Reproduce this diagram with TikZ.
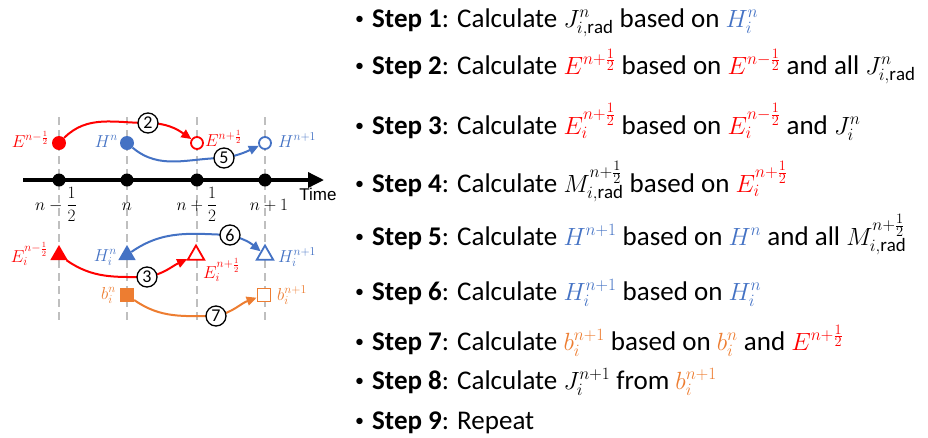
\documentclass[tikz,border=0pt]{standalone}
\usepackage{fontspec}
\setmainfont{Carlito}
\newfontfamily\timefont{Liberation Sans}
\usetikzlibrary{arrows.meta,shapes.geometric}
\definecolor{cred}{RGB}{255,0,0}
\definecolor{cblue}{RGB}{68,114,196}
\definecolor{corange}{RGB}{237,125,49}
\definecolor{cgray}{RGB}{191,191,191}
\newcommand{\rc}[1]{\textcolor{cred}{#1}}
\newcommand{\bc}[1]{\textcolor{cblue}{#1}}
\newcommand{\oc}[1]{\textcolor{corange}{#1}}
\newcommand{\bul}{\makebox[20pt][l]{\hspace{3pt}\raisebox{3pt}{\fontsize{18}{18}\selectfont•}}}
\begin{document}
\begin{tikzpicture}[x=1pt,y=-1pt,
  gridline/.style={cgray,line width=2.4pt,dash pattern=on 8pt off 5pt},
  timeaxis/.style={black,line width=3.5pt,-{Triangle[length=16pt,width=15pt]}},
  tdot/.style={circle,fill=black,minimum size=13pt,inner sep=0pt},
  fdot/.style={circle,fill=#1,minimum size=14pt,inner sep=0pt},
  odot/.style={circle,draw=#1,line width=1.8pt,fill=white,minimum size=12pt,inner sep=0pt},
  ftri/.style={regular polygon,regular polygon sides=3,fill=#1,minimum size=20pt,inner sep=0pt},
  otri/.style={regular polygon,regular polygon sides=3,draw=#1,line width=1.8pt,fill=white,minimum size=19pt,inner sep=0pt},
  fsq/.style={rectangle,fill=#1,minimum size=14pt,inner sep=0pt},
  osq/.style={rectangle,draw=#1,line width=1.8pt,fill=white,minimum size=13pt,inner sep=0pt},
  conn/.style={draw=#1,line width=2pt,-{Triangle[length=10pt,width=9pt]}},
  num/.style={circle,draw=black,line width=1.3pt,fill=white,minimum size=20pt,inner sep=0pt,font=\fontsize{18}{18}\selectfont},
  lab/.style={inner sep=0pt,font=\fontsize{17}{20}\selectfont},
  ticklab/.style={inner sep=0pt,anchor=base,font=\fontsize{19}{22}\selectfont},
  stepline/.style={anchor=base west,inner sep=0pt,font=\fontsize{27}{30}\selectfont}
]
\useasboundingbox (0,0) rectangle (928,437);

% grid lines
\foreach \x in {59,127,197,265}{\draw[gridline] (\x,117) -- (\x,322);}

% time axis
\coordinate (ax0) at (23,180);
\coordinate (ax1) at (324,180);
\draw[timeaxis] (ax0) -- (ax1);
\node[tdot] (t0) at (59,180) {};
\node[tdot] (t1) at (127,180) {};
\node[tdot] (t2) at (197,180) {};
\node[tdot] (t3) at (265,180) {};
\node[inner sep=0pt,font=\timefont\fontsize{17}{17}\selectfont] (timelab) at (318,194) {Time};
\node[ticklab] (l0) at (56,210) {$\displaystyle n-\frac{1}{2}$};
\node[ticklab] (l1) at (127,210) {$n$};
\node[ticklab] (l2) at (197,210) {$\displaystyle n+\frac{1}{2}$};
\node[ticklab] (l3) at (269,210) {$n+1$};

% upper row
\node[fdot=cred] (E0) at (59,143) {};
\node[fdot=cblue] (H0) at (127,143) {};
\node[odot=cred] (E1) at (197,143) {};
\node[odot=cblue] (H1) at (265,143) {};
\node[lab,anchor=base east,text=cred] (E0l) at (49,147) {$E^{n-\frac{1}{2}}$};
\node[lab,anchor=base east,text=cblue] (H0l) at (118,147) {$H^{n}$};
\node[lab,anchor=base west,text=cred] (E1l) at (205,146) {$E^{n+\frac{1}{2}}$};
\node[lab,anchor=base west,text=cblue] (H1l) at (278,147) {$H^{n+1}$};

\coordinate (c2) at (148,123);
\coordinate (c5) at (224,158);
\draw[conn=cred] (E0) to[out=45,in=180] (c2) to[out=0,in=145] (E1);
\draw[conn=cblue] (H0) to[out=-40,in=180] (c5) to[out=10,in=205] (H1);
\node[num] (n2) at (c2) {2};
\node[num] (n5) at (c5) {5};

% lower row
\node[ftri=cred] (Et0) at (59,255) {};
\node[ftri=cblue] (Ht0) at (127,255) {};
\node[otri=cred] (Et1) at (196,255) {};
\node[otri=cblue] (Ht1) at (265,255) {};
\node[fsq=corange] (b0) at (127,295) {};
\node[osq=corange] (b1) at (264,295) {};
\node[lab,anchor=base east,text=cred] (Et0l) at (48,262) {$E_i^{n-\frac{1}{2}}$};
\node[lab,anchor=base east,text=cblue] (Ht0l) at (117,261) {$H_i^{n}$};
\node[lab,anchor=base east,text=corange] (b0l) at (116,299) {$b_i^{n}$};
\node[lab,anchor=base west,text=cred] (Et1l) at (203,278) {$E_i^{n+\frac{1}{2}}$};
\node[lab,anchor=base west,text=cblue] (Ht1l) at (278,262) {$H_i^{n+1}$};
\node[lab,anchor=base west,text=corange] (b1l) at (277,300) {$b_i^{n+1}$};

\coordinate (c3) at (147,277);
\coordinate (c6) at (230,235);
\coordinate (c7) at (216,316);
\draw[conn=cred] (Et0) to[out=-35,in=180] (c3) to[out=10,in=205] (Et1);
\draw[conn=cblue] (Ht0) to[out=35,in=178] (c6) to[out=-15,in=140] (Ht1);
\draw[conn=corange] (b0) to[out=-35,in=180] (c7) to[out=12,in=200] (b1);
\node[num] (n3) at (c3) {3};
\node[num] (n6) at (c6) {6};
\node[num] (n7) at (c7) {7};

% steps
\node[stepline] (s1) at (352,27) {\bul\textbf{Step 1}: Calculate $J^n_{i,\mathrm{rad}}$ based on \bc{$H^n_i$}};
\node[stepline] (s2) at (352,74) {\bul\textbf{Step 2}: Calculate \rc{$E^{n+\frac{1}{2}}$} based on \rc{$E^{n-\frac{1}{2}}$} and all $J^n_{i,\mathrm{rad}}$};
\node[stepline] (s3) at (352,134) {\bul\textbf{Step 3}: Calculate \rc{$E_i^{n+\frac{1}{2}}$} based on \rc{$E_i^{n-\frac{1}{2}}$} and $J_i^n$};
\node[stepline] (s4) at (352,192) {\bul\textbf{Step 4}: Calculate $M_{i,\mathrm{rad}}^{n+\frac{1}{2}}$ based on \rc{$E_i^{n+\frac{1}{2}}$}};
\node[stepline] (s5) at (352,245) {\bul\textbf{Step 5}: Calculate \bc{$H^{n+1}$} based on \bc{$H^n$} and all $M_{i,\mathrm{rad}}^{n+\frac{1}{2}}$};
\node[stepline] (s6) at (352,300) {\bul\textbf{Step 6}: Calculate \bc{$H_i^{n+1}$} based on \bc{$H_i^n$}};
\node[stepline] (s7) at (352,350) {\bul\textbf{Step 7}: Calculate \oc{$b_i^{n+1}$} based on \oc{$b_i^n$} and \rc{$E^{n+\frac{1}{2}}$}};
\node[stepline] (s8) at (352,389) {\bul\textbf{Step 8}: Calculate $J_i^{n+1}$ from \oc{$b_i^{n+1}$}};
\node[stepline] (s9) at (352,429) {\bul\textbf{Step 9}: Repeat};
\end{tikzpicture}
\end{document}
